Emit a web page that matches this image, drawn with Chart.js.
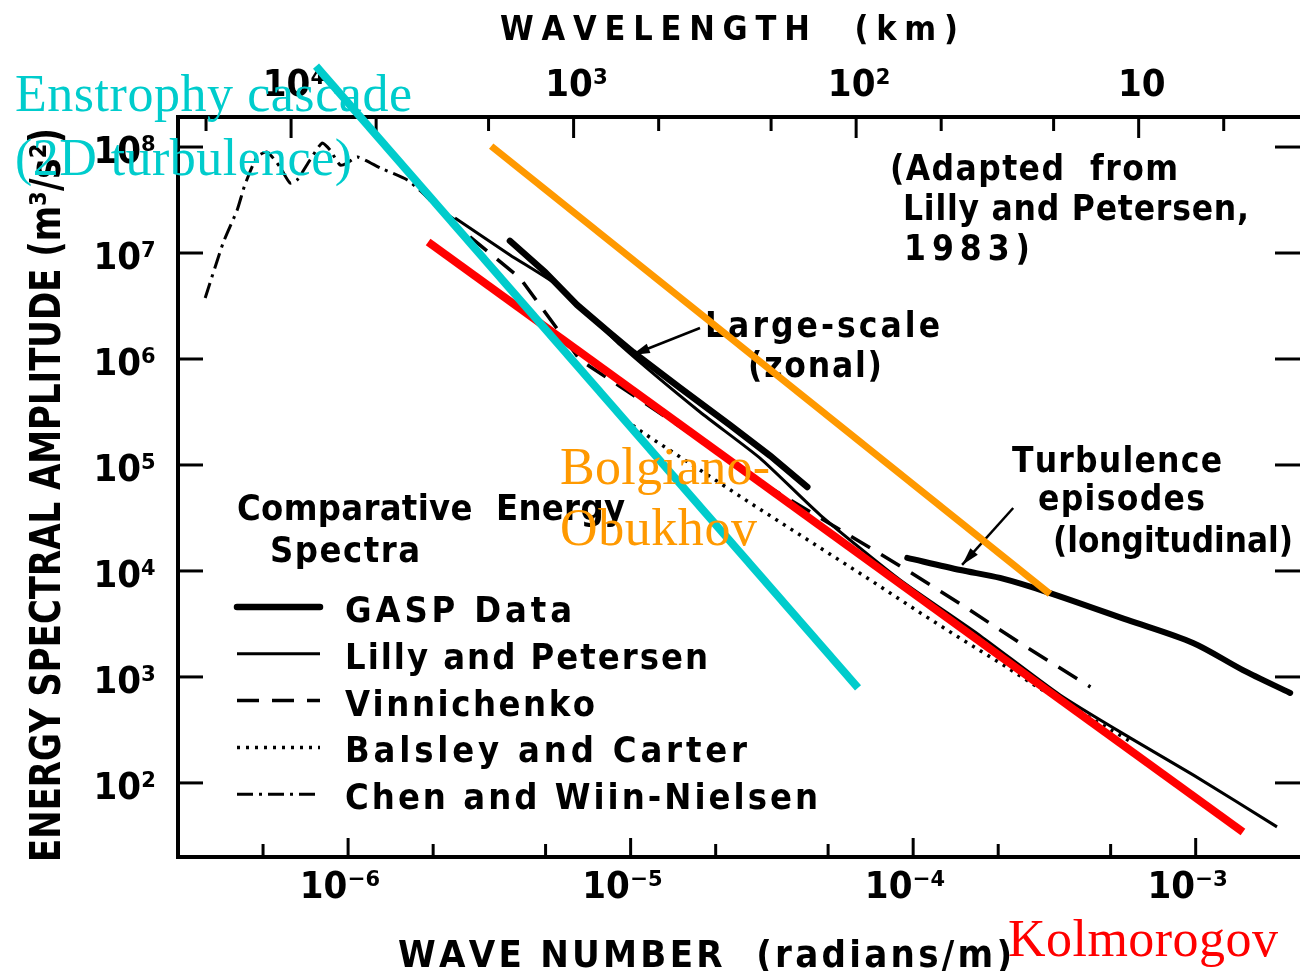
<!DOCTYPE html>
<html>
<head>
<meta charset="utf-8">
<title>Comparative Energy Spectra</title>
<script src="https://cdn.jsdelivr.net/npm/chart.js@4.4.1/dist/chart.umd.min.js"></script>
<style>
html, body { margin: 0; padding: 0; background: #fff; overflow: hidden; }
#box { position: relative; width: 1300px; height: 971px; }
</style>
</head>
<body>
<div id="box"><canvas id="spectra"></canvas></div>
<script>
// values: wave number k (rad/m), amplitude E (m^3/s^2)

var kMin = 2.5e-7, kMax = 2.34e-3;
var eMin = 20, eMax = 1.92e8;

var waveTicks = [5e-7, 1e-6, 2e-6, 5e-6, 1e-5, 2e-5, 5e-5, 1e-4, 2e-4, 5e-4, 1e-3];
var lengthTicksKm = [2e4, 1e4, 5e3, 2e3, 1e3, 500, 200, 100, 50, 20, 10, 5];
var ampTicks = [1e2, 1e3, 1e4, 1e5, 1e6, 1e7, 1e8];

var gaspZonalK = [3.74e-6, 4.98e-6, 6.47e-6, 8.45e-6, 1.02e-5, 1.50e-5, 2.25e-5, 3.12e-5, 4.22e-5];
var gaspZonalE = [1.30e7, 6.62e6, 3.23e6, 1.76e6, 1.16e6, 5.32e5, 2.38e5, 1.22e5, 6.20e4];

var gaspTurbK = [9.53e-5, 1.47e-4, 2.03e-4, 3.05e-4, 5.73e-4, 9.79e-4, 1.47e-3, 2.16e-3];
var gaspTurbE = [1.33e4, 1.02e4, 8590, 6190, 3450, 2090, 1160, 706];

var lillyK = [2.39e-6, 3.74e-6, 5.62e-6, 9.18e-6, 1.76e-5, 2.87e-5, 4.69e-5, 8.99e-5, 1.73e-4, 3.31e-4, 5.86e-4, 9.79e-4, 1.94e-3];
var lillyE = [2.14e7, 9.58e6, 4.77e6, 1.36e6, 3.16e5, 1.16e5, 3.37e4, 8220, 2440, 676, 266, 119, 38.5];

var vinK = [2.70e-6, 4.06e-6, 6.62e-6, 1.02e-5, 1.76e-5, 3.12e-5, 5.52e-5, 9.38e-5, 1.47e-4, 2.45e-4, 4.24e-4];
var vinE = [1.42e7, 5.81e6, 9.80e5, 4.57e5, 1.72e5, 6.07e4, 2.44e4, 1.04e4, 4890, 2000, 805];

var balsleyK = [9.57e-6, 1.11e-5, 1.76e-5, 2.65e-5, 4.69e-5, 7.05e-5, 1.06e-4, 1.50e-4, 2.08e-4, 2.75e-4, 3.90e-4, 6.01e-4];
var balsleyE = [2.66e5, 2.00e5, 8.97e4, 4.38e4, 1.65e4, 8220, 4020, 2230, 1300, 805, 468, 238];

var chenK = [3.12e-7, 3.61e-7, 4.05e-7, 4.31e-7, 4.76e-7, 5.17e-7, 5.74e-7, 6.23e-7, 6.60e-7, 7.33e-7, 8.09e-7, 8.63e-7, 9.37e-7, 9.92e-7, 1.08e-6, 1.30e-6, 1.62e-6, 1.84e-6, 2.06e-6, 2.39e-6];
var chenE = [3.76e6, 1.24e7, 2.55e7, 4.38e7, 8.05e7, 8.97e7, 6.47e7, 4.57e7, 4.89e7, 7.54e7, 1.09e8, 9.37e7, 6.76e7, 7.06e7, 8.05e7, 6.34e7, 4.89e7, 3.68e7, 2.72e7, 2.05e7];

// straight power-law guide lines drawn over the figure
var enstrophyK = [7.70e-7, 6.38e-5];
var enstrophyE = [5.81e8, 787];
var kolmogorovK = [1.92e-6, 1.47e-3];
var kolmogorovE = [1.27e7, 34.5];
var bolgianoK = [3.21e-6, 3.05e-4];
var bolgianoE = [1.02e8, 6070];

// leader arrows (tail, head)
var largeArrowK = [1.76e-5, 1.01e-5];
var largeArrowE = [1.96e6, 1.09e6];
var turbArrowK = [2.26e-4, 1.49e-4];
var turbArrowE = [3.93e4, 1.14e4];

var letterFont = "'Liberation Sans Narrow', 'DejaVu Sans Condensed', 'DejaVu Sans', sans-serif";
var serifFont = "'Liberation Serif', 'Times New Roman', 'DejaVu Serif', serif";

// text, x, baseline, width, size
var blackNotes = [
	['WAVELENGTH  (km)', 500, 40, 458, 34],
	['WAVE NUMBER  (radians/m)', 398, 967, 614, 38],
	['(Adapted  from', 890, 180, 288, 35],
	['Lilly and Petersen,', 903, 220, 346, 35],
	['1983)', 904, 260, 126, 35],
	['Large-scale', 705, 337, 235, 35],
	['(zonal)', 748, 377, 134, 35],
	['Turbulence', 1012, 472, 210, 35],
	['episodes', 1038, 510, 167, 35],
	['(longitudinal)', 1053, 552, 240, 35],
	['Comparative  Energy', 237, 520, 388, 36],
	['Spectra', 270, 562, 150, 36]
];
var legendWidths = [227, 363, 250, 402, 473];

var colourNotes = [
	['Enstrophy cascade', 15, 111, 397, '#00CCCC'],
	['(2D turbulence)', 15, 175, 337, '#00CCCC'],
	['Bolgiano-', 560, 484, 210, '#FF9900'],
	['Obukhov', 560, 545, 197, '#FF9900'],
	['Kolmorogov', 1008, 956, 270, '#FF0000']
];

function pts(ks, es) {
	return ks.map(function(k, i) { return {x: k, y: es[i]}; });
}

function sup(n) {
	var map = {'-': '\u207B', '0': '\u2070', '1': '\u00B9', '2': '\u00B2', '3': '\u00B3', '4': '\u2074',
		'5': '\u2075', '6': '\u2076', '7': '\u2077', '8': '\u2078', '9': '\u2079'};
	return String(n).split('').map(function(c) { return map[c]; }).join('');
}

function isDecade(v) {
	var e = Math.log10(v);
	return Math.abs(e - Math.round(e)) < 1e-6;
}

function decadeLabel(v) {
	if(!isDecade(v)) return '';
	var e = Math.round(Math.log10(v));
	return e === 1 ? '10' : '10' + sup(e);
}

function fitText(ctx, str, x, y, w, font, color) {
	ctx.font = font;
	ctx.fillStyle = color;
	ctx.textAlign = 'left';
	ctx.textBaseline = 'alphabetic';
	var chars = Array.from(str);
	var widths = chars.map(function(c) { return ctx.measureText(c).width; });
	var natural = widths.reduce(function(a, b) { return a + b; }, 0);
	var gap = chars.length > 1 ? (w - natural) / (chars.length - 1) : 0;
	var sx = 1;
	if(gap < 0) {
		sx = w / natural;
		gap = 0;
	}
	ctx.save();
	ctx.translate(x, y);
	ctx.scale(sx, 1);
	var cx = 0;
	for(var i = 0; i < chars.length; i++) {
		ctx.fillText(chars[i], cx, 0);
		cx += widths[i] + gap;
	}
	ctx.restore();
}

function letters(size) {
	return 'bold ' + size + 'px ' + letterFont;
}

function seg(ctx, x1, y1, x2, y2) {
	ctx.beginPath();
	ctx.moveTo(x1, y1);
	ctx.lineTo(x2, y2);
	ctx.stroke();
}

function arrow(ctx, x1, y1, x2, y2) {
	seg(ctx, x1, y1, x2, y2);
	var a = Math.atan2(y2 - y1, x2 - x1);
	var len = 18, half = 5;
	ctx.beginPath();
	ctx.moveTo(x2, y2);
	ctx.lineTo(x2 - len * Math.cos(a) + half * Math.sin(a), y2 - len * Math.sin(a) - half * Math.cos(a));
	ctx.lineTo(x2 - len * Math.cos(a) - half * Math.sin(a), y2 - len * Math.sin(a) + half * Math.cos(a));
	ctx.closePath();
	ctx.fill();
}

var decoPlugin = {
	id: 'deco',
	beforeDatasetsDraw: function(chart) {
		var ctx = chart.ctx;
		var a = chart.chartArea;
		var xs = chart.scales.x, x2 = chart.scales.x2, ys = chart.scales.y;
		ctx.save();
		ctx.strokeStyle = '#000';
		ctx.fillStyle = '#000';
		ctx.lineWidth = 3;

		// inward tick marks on all four sides
		waveTicks.forEach(function(v) {
			var p = xs.getPixelForValue(v);
			seg(ctx, p, a.bottom, p, a.bottom - (isDecade(v) ? 19 : 13));
		});
		lengthTicksKm.forEach(function(v) {
			var p = x2.getPixelForValue(v);
			seg(ctx, p, a.top, p, a.top + (isDecade(v) ? 21 : 14));
		});
		ampTicks.forEach(function(v) {
			var p = ys.getPixelForValue(v);
			seg(ctx, a.left, p, a.left + 25, p);
			seg(ctx, a.right, p, a.right - 25, p);
		});

		// axis titles and notes
		blackNotes.forEach(function(n) {
			fitText(ctx, n[0], n[1], n[2], n[3], letters(n[4]), '#000');
		});
		ctx.save();
		ctx.translate(60, 862);
		ctx.rotate(-Math.PI / 2);
		fitText(ctx, 'ENERGY SPECTRAL AMPLITUDE (m\u00B3/s\u00B2)', 0, 0, 734, letters(42), '#000');
		ctx.restore();

		// leader arrows
		ctx.lineWidth = 2.5;
		arrow(ctx, xs.getPixelForValue(largeArrowK[0]), ys.getPixelForValue(largeArrowE[0]),
			xs.getPixelForValue(largeArrowK[1]), ys.getPixelForValue(largeArrowE[1]));
		arrow(ctx, xs.getPixelForValue(turbArrowK[0]), ys.getPixelForValue(turbArrowE[0]),
			xs.getPixelForValue(turbArrowK[1]), ys.getPixelForValue(turbArrowE[1]));

		// legend, styled from the datasets themselves
		chart.data.datasets.forEach(function(ds) {
			if(typeof ds.legendRow === 'undefined') return;
			var y = 607 + ds.legendRow * 46.8;
			ctx.lineWidth = ds.borderWidth;
			ctx.setLineDash(ds.borderDash || []);
			ctx.lineCap = ds.borderCapStyle || 'butt';
			seg(ctx, 237, y, 320, y);
			ctx.setLineDash([]);
			fitText(ctx, ds.label, 345, y + 15, legendWidths[ds.legendRow], letters(36), '#000');
		});
		ctx.restore();
	},
	afterDraw: function(chart) {
		var ctx = chart.ctx;
		ctx.save();
		colourNotes.forEach(function(n) {
			fitText(ctx, n[0], n[1], n[2], n[3], '52px ' + serifFont, n[4]);
		});
		ctx.restore();
	}
};

function blackLine(label, data, width, extra) {
	var ds = {label: label, data: data, borderColor: '#000', backgroundColor: '#000', borderWidth: width,
		showLine: true, pointRadius: 0, fill: false, order: 2};
	for(var key in extra) ds[key] = extra[key];
	return ds;
}

function guideLine(label, data, color, width) {
	return {label: label, data: data, borderColor: color, backgroundColor: color, borderWidth: width,
		showLine: true, pointRadius: 0, fill: false, clip: false, order: 0, borderCapStyle: 'butt'};
}

var lengthMin = 2 * Math.PI / kMax / 1000;
var lengthMax = 2 * Math.PI / kMin / 1000;

var tickFont = {family: letterFont, size: 38, weight: 'bold', lineHeight: 1.2};

var config = {
	type: 'scatter',
	data: {
		datasets: [
			blackLine('GASP Data', pts(gaspZonalK, gaspZonalE), 6.5, {legendRow: 0, borderCapStyle: 'round'}),
			blackLine('GASP turbulence episodes', pts(gaspTurbK, gaspTurbE), 6, {tension: 0.3, borderCapStyle: 'round'}),
			blackLine('Lilly and Petersen', pts(lillyK, lillyE), 3, {legendRow: 1, tension: 0.2}),
			blackLine('Vinnichenko', pts(vinK, vinE), 3.5, {legendRow: 2, borderDash: [22, 13]}),
			blackLine('Balsley and Carter', pts(balsleyK, balsleyE), 3.5, {legendRow: 3, borderDash: [3, 6]}),
			blackLine('Chen and Wiin-Nielsen', pts(chenK, chenE), 3, {legendRow: 4, borderDash: [16, 6, 3, 6], tension: 0.2}),
			guideLine('Enstrophy cascade', pts(enstrophyK, enstrophyE), '#00CCCC', 8),
			guideLine('Kolmogorov', pts(kolmogorovK, kolmogorovE), '#FF0000', 8),
			guideLine('Bolgiano-Obukhov', pts(bolgianoK, bolgianoE), '#FF9900', 7)
		]
	},
	options: {
		responsive: true,
		maintainAspectRatio: false,
		devicePixelRatio: 1,
		animation: false,
		events: [],
		layout: {padding: 0},
		plugins: {
			legend: {display: false},
			tooltip: {enabled: false}
		},
		scales: {
			x: {
				type: 'logarithmic', position: 'bottom', min: kMin, max: kMax, bounds: 'data',
				afterBuildTicks: function(s) { s.ticks = waveTicks.map(function(v) { return {value: v}; }); },
				afterFit: function(s) { s.height = 114; },
				grid: {display: false, drawTicks: false},
				border: {display: true, color: '#000', width: 4},
				ticks: {autoSkip: false, maxRotation: 0, padding: 8, labelOffset: -8, color: '#000', font: tickFont, callback: decadeLabel}
			},
			x2: {
				type: 'logarithmic', position: 'top', reverse: true, min: lengthMin, max: lengthMax, bounds: 'data',
				afterBuildTicks: function(s) { s.ticks = lengthTicksKm.map(function(v) { return {value: v}; }); },
				afterFit: function(s) { s.height = 117; },
				grid: {display: false, drawTicks: false},
				border: {display: true, color: '#000', width: 4},
				ticks: {autoSkip: false, maxRotation: 0, padding: 8, labelOffset: 3, color: '#000', font: tickFont, callback: decadeLabel}
			},
			y: {
				type: 'logarithmic', position: 'left', min: eMin, max: eMax, bounds: 'data',
				afterBuildTicks: function(s) { s.ticks = ampTicks.map(function(v) { return {value: v}; }); },
				afterFit: function(s) { s.width = 178; },
				grid: {display: false, drawTicks: false},
				border: {display: true, color: '#000', width: 4},
				ticks: {autoSkip: false, padding: 22, labelOffset: 6, color: '#000', font: tickFont, callback: decadeLabel}
			}
		}
	},
	plugins: [decoPlugin]
};

var myChart = new Chart(document.getElementById('spectra'), config);
</script>
</body>
</html>
